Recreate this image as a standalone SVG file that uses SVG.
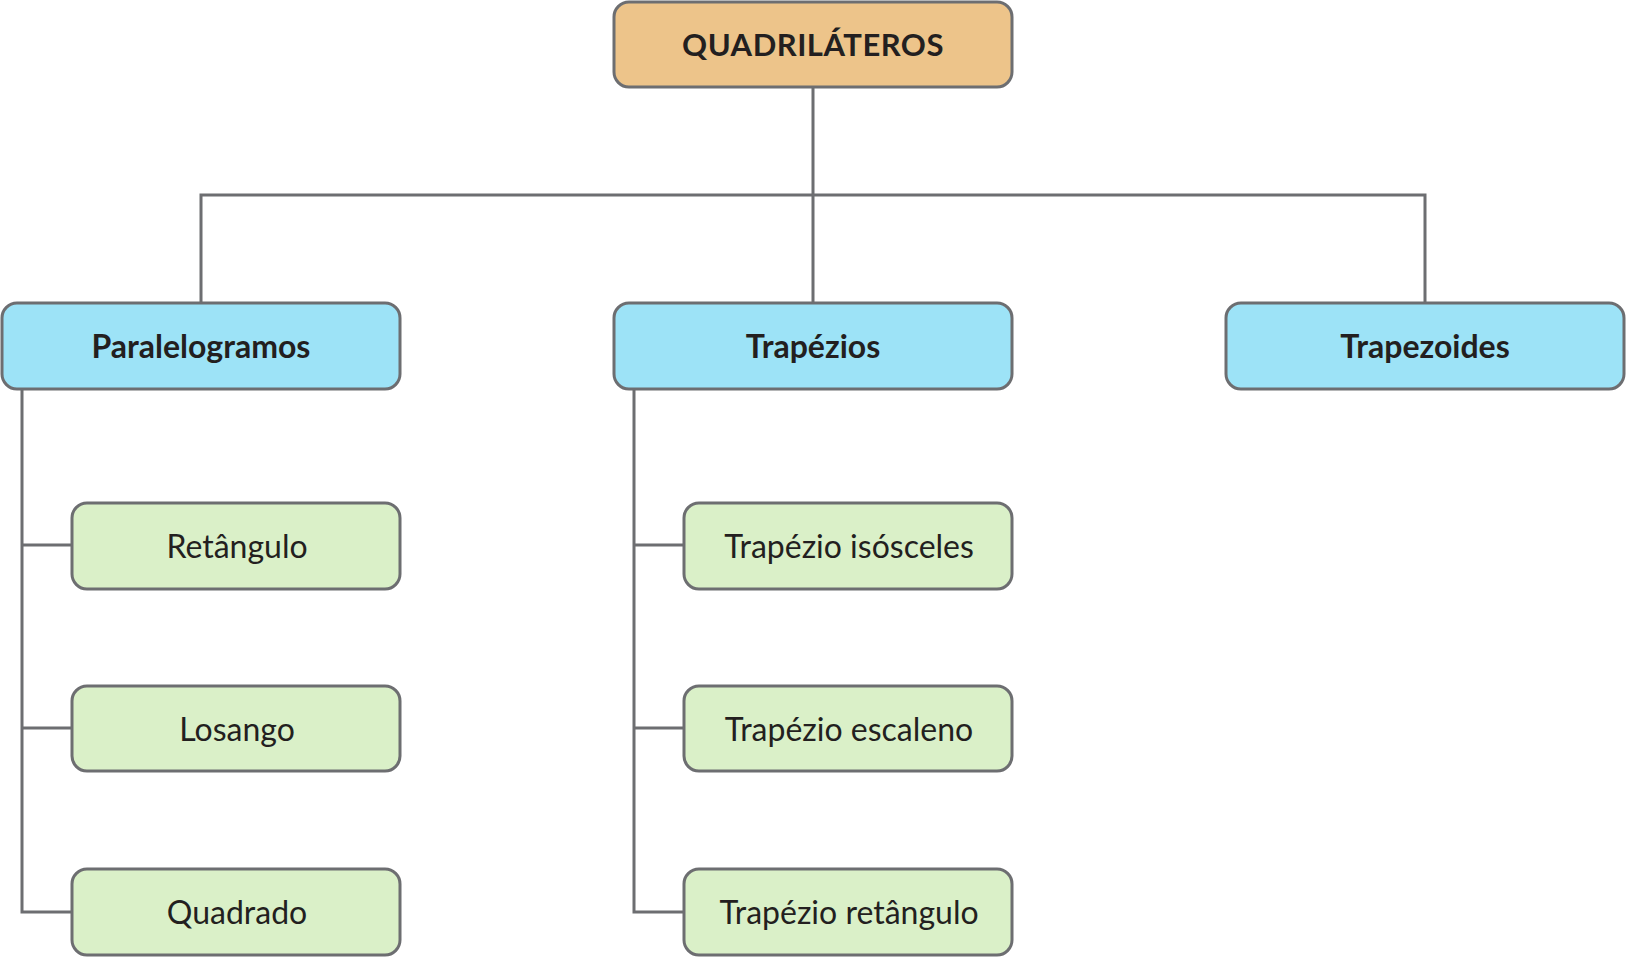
<svg xmlns="http://www.w3.org/2000/svg" width="1626" height="957" viewBox="0 0 1626 957">
<style>
.box{stroke:#6d6e71;stroke-width:3}
.root{fill:#edc48a}
.cat{fill:#9de3f7}
.sub{fill:#daf0c8}
.ln{fill:none;stroke:#6d6e71;stroke-width:3}
text{font-family:Lato,"Open Sans","Liberation Sans",sans-serif;fill:#231f20;text-anchor:middle;dominant-baseline:central}
.tb{font-weight:bold;font-size:32px}
.tt{font-weight:bold;font-size:31px;letter-spacing:0.5px}
.tr{font-size:32px}
</style>
<rect width="1626" height="957" fill="#fff"/>
<g id="connectors">
<path class="ln" d="M813 87V195M201 303V195H1425V303M813 195V303"/>
<path class="ln" d="M22 389V912H72M22 545H72M22 728H72"/>
<path class="ln" d="M634 389V912H684M634 545H684M634 728H684"/>
</g>
<g id="quadrilateros"><rect class="box root" x="614" y="2" width="398" height="85" rx="15"/><text class="tt" x="813" y="44">QUADRILÁTEROS</text></g>
<g id="paralelogramos"><rect class="box cat" x="2" y="303" width="398" height="86" rx="15"/><text class="tb" x="201" y="345">Paralelogramos</text></g>
<g id="trapezios"><rect class="box cat" x="614" y="303" width="398" height="86" rx="15"/><text class="tb" x="813" y="345">Trapézios</text></g>
<g id="trapezoides"><rect class="box cat" x="1226" y="303" width="398" height="86" rx="15"/><text class="tb" x="1425" y="345">Trapezoides</text></g>
<g id="retangulo"><rect class="box sub" x="72" y="503" width="328" height="86" rx="15"/><text class="tr" x="237" y="545">Retângulo</text></g>
<g id="losango"><rect class="box sub" x="72" y="686" width="328" height="85" rx="15"/><text class="tr" x="237" y="728">Losango</text></g>
<g id="quadrado"><rect class="box sub" x="72" y="869" width="328" height="86" rx="15"/><text class="tr" x="237" y="911">Quadrado</text></g>
<g id="trapezio-isosceles"><rect class="box sub" x="684" y="503" width="328" height="86" rx="15"/><text class="tr" x="849" y="545">Trapézio isósceles</text></g>
<g id="trapezio-escaleno"><rect class="box sub" x="684" y="686" width="328" height="85" rx="15"/><text class="tr" x="849" y="728">Trapézio escaleno</text></g>
<g id="trapezio-retangulo"><rect class="box sub" x="684" y="869" width="328" height="86" rx="15"/><text class="tr" x="849" y="911">Trapézio retângulo</text></g>
</svg>
